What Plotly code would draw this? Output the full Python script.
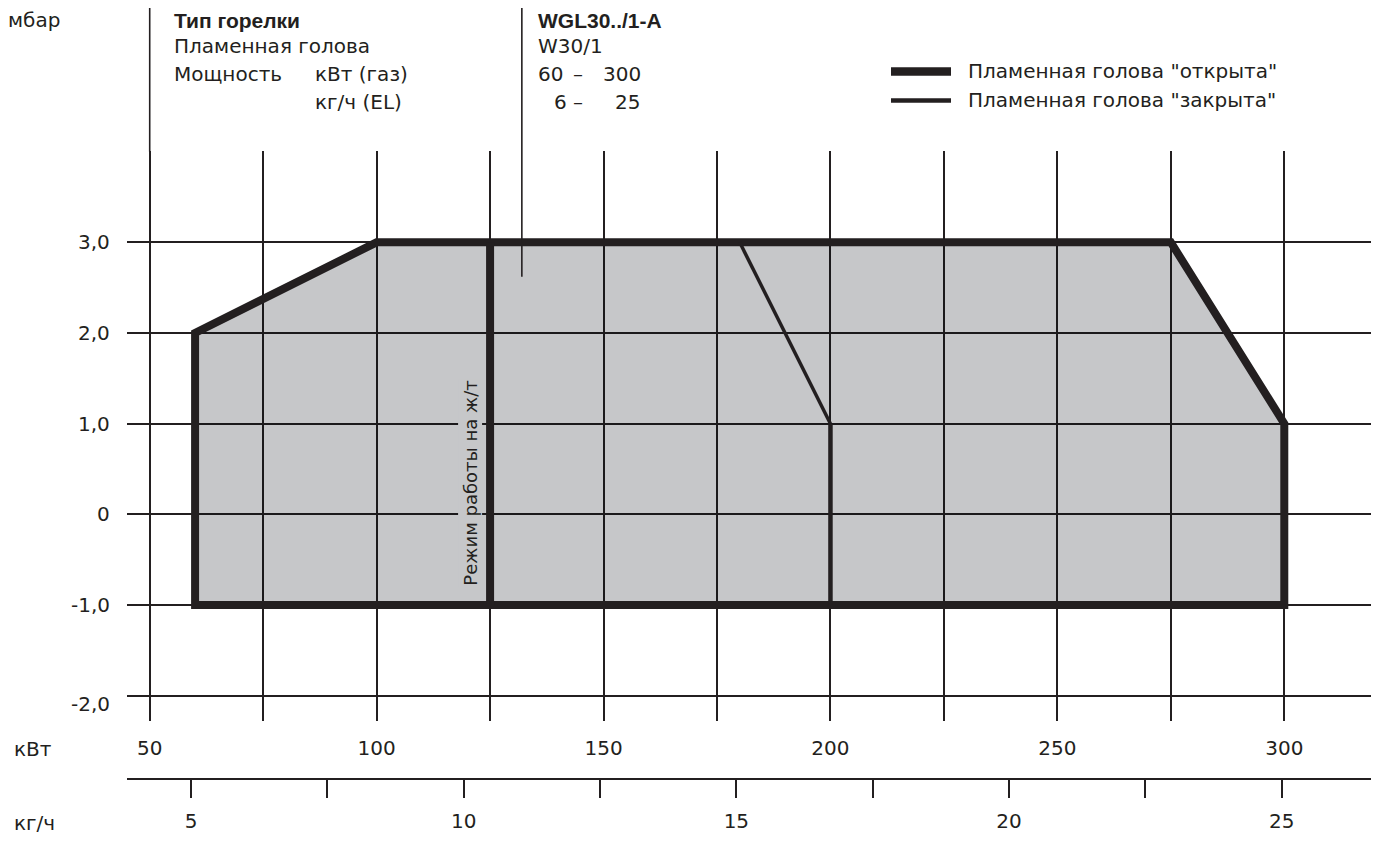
import plotly.graph_objects as go

# ---------------- data ----------------
kw_ticks = [50, 75, 100, 125, 150, 175, 200, 225, 250, 275, 300]
kw_labels = ["50", "", "100", "", "150", "", "200", "", "250", "", "300"]
kgh_ticks = [5, 7.5, 10, 12.5, 15, 17.5, 20, 22.5, 25]
kgh_labels = ["5", "", "10", "", "15", "", "20", "", "25"]
mbar_ticks = [-2, -1, 0, 1, 2, 3, 4]
mbar_labels = ["-2,0", "-1,0", "0", "1,0", "2,0", "3,0", ""]

# working field, flame head "open" (thick outline)
open_kw = [60, 60, 100, 275, 300, 300, 60, 60]
open_mbar = [-1, 2, 3, 3, 1, -1, -1, 2]
# oil operation limit
oil_kw = [125, 125]
oil_mbar = [-1, 3]
# flame head "closed" (thin line)
closed_kw = [180, 200, 200]
closed_mbar = [3, 1, -1]
# pointer from header column
pointer_kw = 132
pointer_mbar = 2.62

oil_text = "Режим работы на ж/т"
oil_text_pos = (120.6, 0.34)

DARK = "#231f20"
FILL = "rgba(0,4,13,0.2235)"  # looks like #c6c7c9 on white, grid shows through
FONT = "DejaVu Sans, Liberation Sans, Arial, sans-serif"
BFONT = "Liberation Sans, Arial, sans-serif"
FS = 20

OFF = 8  # page body margin
W, H = 1379 - OFF, 863 - OFF
# axis geometry (reference pixels)
XL_PX, XR_PX = 126.7, 1379
YT_PX, YB_PX = 151.0, 721.0
KW_RANGE = [44.93, 320.87]
MB_RANGE = [-2.279, 4.007]
KGH_RANGE = [3.821, 26.784]


def px(xp):
    return (xp - OFF) / W


def py(yp):
    return 1 - (yp - OFF) / H


def kw2paper(v):
    d0, d1 = px(XL_PX), px(XR_PX)
    return d0 + (v - KW_RANGE[0]) / (KW_RANGE[1] - KW_RANGE[0]) * (d1 - d0)


def mb2paper(v):
    d0, d1 = py(YB_PX), py(YT_PX)
    return d0 + (v - MB_RANGE[0]) / (MB_RANGE[1] - MB_RANGE[0]) * (d1 - d0)


fig = go.Figure()

# grey field
fig.add_trace(go.Scatter(x=open_kw[:6], y=open_mbar[:6], fill="toself", fillcolor=FILL,
                         mode="none", hoverinfo="skip"))
# thick outline
fig.add_trace(go.Scatter(x=open_kw, y=open_mbar, mode="lines",
                         line=dict(color=DARK, width=8), hoverinfo="skip"))
fig.add_trace(go.Scatter(x=oil_kw, y=oil_mbar, mode="lines",
                         line=dict(color=DARK, width=8), hoverinfo="skip"))
# thin "closed" line
fig.add_trace(go.Scatter(x=closed_kw[:2], y=closed_mbar[:2], mode="lines",
                         line=dict(color=DARK, width=3.5), hoverinfo="skip"))
fig.add_trace(go.Scatter(x=closed_kw[1:], y=closed_mbar[1:], mode="lines",
                         line=dict(color=DARK, width=4.5), hoverinfo="skip"))
# dummy trace to carry the kg/h axis
fig.add_trace(go.Scatter(x=kgh_ticks, y=[None] * len(kgh_ticks), xaxis="x2", yaxis="y",
                         mode="lines", hoverinfo="skip"))

fig.update_layout(
    width=W, height=H,
    margin=dict(l=0, r=0, t=0, b=0),
    paper_bgcolor="white", plot_bgcolor="white",
    showlegend=False,
    font=dict(family=FONT, size=FS, color=DARK),
    xaxis=dict(domain=[px(XL_PX), px(XR_PX)], range=KW_RANGE,
               tickvals=kw_ticks, ticktext=kw_labels, ticks="",
               showgrid=True, gridcolor=DARK, gridwidth=1.6,
               zeroline=False, showline=False,
               tickfont=dict(family=FONT, size=FS, color=DARK), ticklabelstandoff=13),
    yaxis=dict(domain=[py(YB_PX), py(YT_PX)], range=MB_RANGE,
               tickvals=mbar_ticks, showticklabels=False, ticks="",
               showgrid=True, gridcolor=DARK, gridwidth=1.6,
               zeroline=False, showline=False),
    xaxis2=dict(overlaying="x", anchor="free", position=py(779),
                range=KGH_RANGE, tickvals=kgh_ticks, ticktext=kgh_labels,
                ticks="outside", ticklen=18, tickwidth=1.6, tickcolor=DARK,
                showline=True, linecolor=DARK, linewidth=1.6,
                showgrid=False, zeroline=False, side="bottom",
                tickfont=dict(family=FONT, size=FS, color=DARK), ticklabelstandoff=6),
)

shapes = []
# header column separators
shapes.append(dict(type="line", xref="paper", yref="paper",
                   x0=kw2paper(kw_ticks[0]), x1=kw2paper(kw_ticks[0]),
                   y0=py(8), y1=mb2paper(4), line=dict(color=DARK, width=1.6)))
shapes.append(dict(type="line", xref="paper", yref="paper",
                   x0=kw2paper(pointer_kw), x1=kw2paper(pointer_kw),
                   y0=py(8), y1=mb2paper(pointer_mbar), line=dict(color=DARK, width=1.6)))
# legend samples
shapes.append(dict(type="line", xref="paper", yref="paper", x0=px(891), x1=px(951),
                   y0=py(71.5), y1=py(71.5), line=dict(color=DARK, width=8.5)))
shapes.append(dict(type="line", xref="paper", yref="paper", x0=px(891), x1=px(951),
                   y0=py(100.5), y1=py(100.5), line=dict(color=DARK, width=4.5)))
fig.update_layout(shapes=shapes)

ann = []


def txt(x, y, s, xanchor="left", size=FS, family=FONT, **kw):
    ann.append(dict(xref="paper", yref="paper", x=px(x), y=py(y), text=s,
                    showarrow=False, xanchor=xanchor, yanchor="middle",
                    font=dict(family=family, size=size, color=DARK), **kw))


# y tick labels
for v, lab in zip(mbar_ticks, mbar_labels):
    if lab:
        ann.append(dict(xref="paper", yref="y", x=px(112), y=v, text=lab, showarrow=False,
                        xanchor="right", yanchor="middle", yshift=(-8 if v == -2 else 0),
                        font=dict(family=FONT, size=FS, color=DARK)))

R1, R2, R3, R4 = 20, 46, 74, 102
txt(6, R1, "мбар")
txt(172, R1, "<b>Тип горелки</b>", family=BFONT, size=21)
txt(172, R2, "Пламенная голова")
txt(172, R3, "Мощность")
txt(313, R3, "кВт (газ)")
txt(313, R4, "кг/ч (EL)")
txt(536, R1, "<b>WGL30../1-A</b>", family=BFONT, size=21)
txt(536, R2, "W30/1")
txt(536, R3, "60")
txt(578, R3, "–", xanchor="center")
txt(643, R3, "300", xanchor="right")
txt(552, R4, "6")
txt(578, R4, "–", xanchor="center")
txt(642, R4, "25", xanchor="right")
txt(966, 71, "Пламенная голова \"открыта\"")
txt(966, 100, "Пламенная голова \"закрыта\"")
txt(12, 749, "кВт")
txt(12, 823, "кг/ч")

ann.append(dict(xref="x", yref="y", x=oil_text_pos[0], y=oil_text_pos[1], text=oil_text,
                textangle=-90, showarrow=False, xanchor="center", yanchor="middle",
                bgcolor="#c6c7c9", borderpad=1,
                font=dict(family=FONT, size=18, color=DARK)))

fig.update_layout(annotations=ann)

fig.write_html("out.html")
